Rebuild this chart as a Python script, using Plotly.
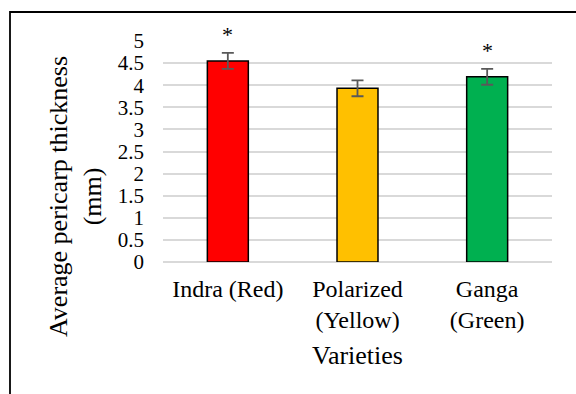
import plotly.graph_objects as go

# ---- data ----
categories = ["Indra (Red)", "Polarized<br>(Yellow)", "Ganga<br>(Green)"]
thickness = [4.55, 3.93, 4.19]
errors = [0.18, 0.18, 0.18]
significance = ["*", "", "*"]
bar_colors = ["#FF0000", "#FFC000", "#00B050"]
y_ticks = [0, 0.5, 1, 1.5, 2, 2.5, 3, 3.5, 4, 4.5, 5]

FONT = "Liberation Serif"
W, H = 576, 394
L, R, T, B = 163, 24, 41, 132
pw, ph = W - L - R, H - T - B

fig = go.Figure()
fig.add_trace(go.Bar(
    x=categories, y=thickness,
    marker=dict(color=bar_colors, line=dict(color="#000000", width=1.5)),
    error_y=dict(type="data", array=errors, visible=True,
                 color="#595959", thickness=1.8, width=6),
    showlegend=False,
))

# significance asterisks above the error bars
for cat, v, e, s in zip(categories, thickness, errors, significance):
    if s:
        fig.add_annotation(x=cat, y=v + e, xref="x", yref="y", text=s,
                           showarrow=False, yanchor="bottom", yshift=4,
                           font=dict(family=FONT, size=22, color="#000000"))


def px_x(p):
    return (p - L) / pw


def px_y(p):
    return (H - B - p) / ph


# y-axis title (placed like the reference, centred on the chart area)
fig.add_annotation(x=px_x(76), y=px_y(197), xref="paper", yref="paper",
                   text="Average pericarp thickness<br>(mm)", textangle=-90,
                   showarrow=False, xanchor="center", yanchor="middle",
                   font=dict(family=FONT, size=26, color="#000000"))

# x-axis title
fig.add_annotation(x=0.5, y=px_y(355), xref="paper", yref="paper",
                   text="Varieties", showarrow=False,
                   xanchor="center", yanchor="middle",
                   font=dict(family=FONT, size=26, color="#000000"))

# outer chart border (extends past the picture on right and bottom)
fig.add_shape(type="rect", xref="paper", yref="paper",
              x0=px_x(10), y0=px_y(12), x1=px_x(590), y1=px_y(410),
              line=dict(color="#000000", width=1.8), fillcolor="rgba(0,0,0,0)",
              layer="below")

fig.update_layout(
    width=W, height=H,
    margin=dict(l=L, r=R, t=T, b=B, autoexpand=False),
    paper_bgcolor="white", plot_bgcolor="white",
    bargap=0.684,
    font=dict(family=FONT, color="#000000"),
    xaxis=dict(
        showgrid=False, showline=False, ticks="",
        tickfont=dict(family=FONT, size=24, color="#000000"),
        ticklabelstandoff=10,
    ),
    yaxis=dict(
        range=[0, 5], tickvals=y_ticks, ticktext=[f"{t:g}" for t in y_ticks],
        showgrid=True, gridcolor="#D9D9D9", gridwidth=1.5,
        zeroline=True, zerolinecolor="#D9D9D9", zerolinewidth=1.5,
        showline=False, ticks="", ticklabelstandoff=18,
        tickfont=dict(family=FONT, size=21, color="#000000"),
    ),
)

fig.write_html("out.html", config={"displayModeBar": False},
               post_script="document.body.style.margin='0';")
